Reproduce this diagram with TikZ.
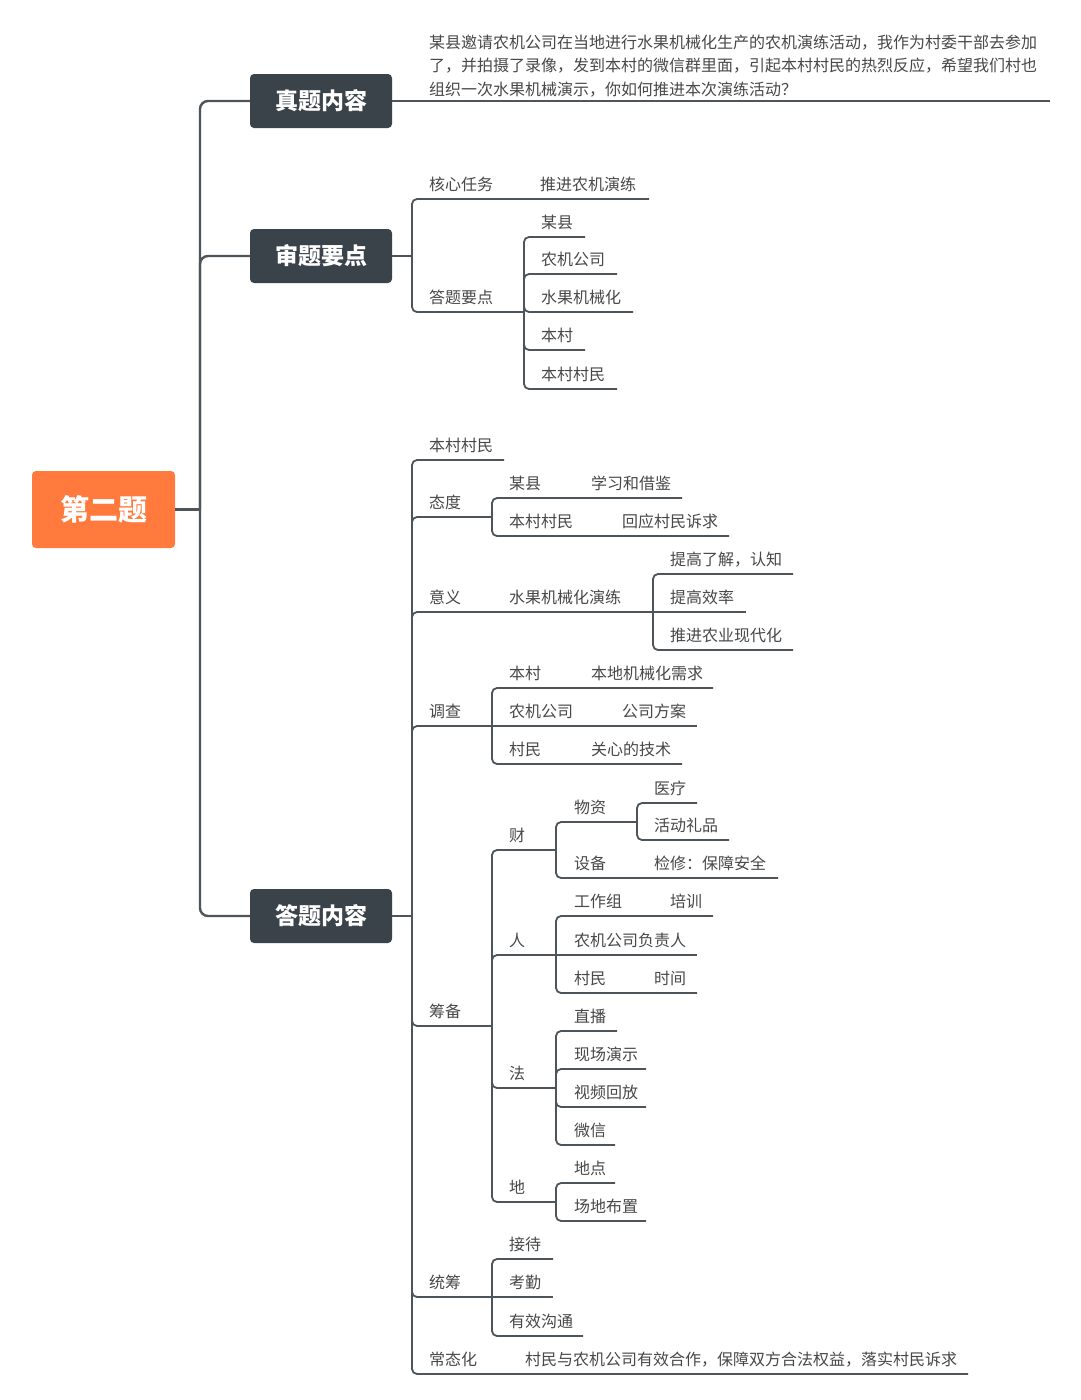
\documentclass[tikz,border=0pt]{standalone}
\usepackage{fontspec}
\setmainfont{Noto Sans CJK SC}
\definecolor{linec}{RGB}{77,84,90}
\definecolor{boxc}{RGB}{59,67,74}
\definecolor{rootc}{RGB}{255,122,60}
\definecolor{txtc}{RGB}{72,72,72}
\begin{document}
\begin{tikzpicture}[x=1pt,y=-1pt,
 br/.style={draw=linec,line width=1.8pt,rounded corners=5pt},
 trunk/.style={draw=linec,line width=2.4pt,rounded corners=8pt},
 lbl/.style={anchor=base west,inner sep=0pt,text=txtc,font=\fontsize{16}{16}\selectfont},
 topic/.style={fill=boxc,rounded corners=4pt,text=white,font=\fontsize{23}{23}\selectfont\bfseries,minimum width=142pt,minimum height=54pt,inner sep=0pt},
 rootbox/.style={fill=rootc,rounded corners=4pt,text=white,font=\fontsize{29}{29}\selectfont\bfseries,minimum width=143pt,minimum height=77pt,inner sep=0pt}
]
\fill[white] (0,0) rectangle (1080,1400);
\useasboundingbox (0,0) rectangle (1080,1400);

% root and main topics
\node[rootbox] (root) at (103.5,509.5) {第二题};
\node[topic] (t1) at (321,101) {真题内容};
\node[topic] (t2) at (321,256) {审题要点};
\node[topic] (t3) at (321,916) {答题内容};

\draw[trunk] (root.east) -- (200,509.5) coordinate (tj);
\draw[trunk] (tj) |- (t1.west);
\draw[trunk] (tj) |- (t2.west);
\draw[trunk] (tj) |- (t3.west);

% question text
\node[anchor=south west,inner sep=0pt,align=left,text=txtc,font=\fontsize{16}{23.5}\selectfont] (q) at (429,97)
 {某县邀请农机公司在当地进行水果机械化生产的农机演练活动，我作为村委干部去参加\\
  了，并拍摄了录像，发到本村的微信群里面，引起本村村民的热烈反应，希望我们村也\\
  组织一次水果机械演示，你如何推进本次演练活动？};
\draw[br] (t1.east) -- (1050,101) coordinate (qend);

% 审题要点
\node[lbl] (a1) at (429,190) {核心任务};
\node[lbl] (a2) at (540,190) {推进农机演练};
\node[lbl] (a3) at (429,303) {答题要点};
\node[lbl] (a4) at (541,228) {某县};
\node[lbl] (a5) at (541,265) {农机公司};
\node[lbl] (a6) at (541,303) {水果机械化};
\node[lbl] (a7) at (541,341) {本村};
\node[lbl] (a8) at (541,380) {本村村民};

\draw[br] (t2.east) -- (412,256) coordinate (j2);
\draw[br] (j2) |- (649,199);
\draw[br] (j2) |- (524,312) coordinate (j2b);
\foreach \yy/\ee in {237/585,274/617,312/633,350/585,389/617}
  \draw[br] (j2b) |- (\ee,\yy);

% 答题内容
\draw[br] (t3.east) -- (412,916) coordinate (j3);

\node[lbl] (b1) at (429,451) {本村村民};
\draw[br] (j3) |- (504,460);

\node[lbl] (b2) at (429,508) {态度};
\node[lbl] (b21) at (509,489) {某县};
\node[lbl] (b22) at (591,489) {学习和借鉴};
\node[lbl] (b23) at (509,527) {本村村民};
\node[lbl] (b24) at (622,527) {回应村民诉求};
\draw[br] (j3) |- (492,517) coordinate (jtd);
\draw[br] (jtd) |- (682,498);
\draw[br] (jtd) |- (729,536);

\node[lbl] (b3) at (429,603) {意义};
\node[lbl] (b31) at (509,603) {水果机械化演练};
\node[lbl] (b32) at (670,565) {提高了解，认知};
\node[lbl] (b33) at (670,603) {提高效率};
\node[lbl] (b34) at (670,641) {推进农业现代化};
\draw[br] (j3) |- (653,612) coordinate (jyy);
\draw[br] (jyy) |- (793,574);
\draw[br] (jyy) -- (746,612);
\draw[br] (jyy) |- (793,650);

\node[lbl] (b4) at (429,717) {调查};
\node[lbl] (b41) at (509,679) {本村};
\node[lbl] (b42) at (591,679) {本地机械化需求};
\node[lbl] (b43) at (509,717) {农机公司};
\node[lbl] (b44) at (622,717) {公司方案};
\node[lbl] (b45) at (509,755) {村民};
\node[lbl] (b46) at (591,755) {关心的技术};
\draw[br] (j3) |- (492,726) coordinate (jdc);
\draw[br] (jdc) |- (713,688);
\draw[br] (jdc) -- (697,726);
\draw[br] (jdc) |- (682,764);

\node[lbl] (b5) at (429,1017) {筹备};
\draw[br] (j3) |- (492,1026) coordinate (jcb);
% 财
\node[lbl] (c1) at (509,841) {财};
\node[lbl] (c11) at (574,813) {物资};
\node[lbl] (c12) at (654,794) {医疗};
\node[lbl] (c13) at (654,831) {活动礼品};
\node[lbl] (c14) at (574,869) {设备};
\node[lbl] (c15) at (654,869) {检修：保障安全};
\draw[br] (jcb) |- (556,850) coordinate (jc);
\draw[br] (jc) |- (637,822) coordinate (jwz);
\draw[br] (jwz) |- (697,803);
\draw[br] (jwz) |- (729,840);
\draw[br] (jc) |- (778,878);
% 人
\node[lbl] (c2) at (509,946) {人};
\node[lbl] (c21) at (574,907) {工作组};
\node[lbl] (c22) at (670,907) {培训};
\node[lbl] (c23) at (574,946) {农机公司负责人};
\node[lbl] (c24) at (574,984) {村民};
\node[lbl] (c25) at (654,984) {时间};
\draw[br] (jcb) |- (556,955) coordinate (jr);
\draw[br] (jr) |- (713,916);
\draw[br] (jr) -- (697,955);
\draw[br] (jr) |- (697,993);
% 法
\node[lbl] (c3) at (509,1079) {法};
\node[lbl] (c31) at (574,1022) {直播};
\node[lbl] (c32) at (574,1060) {现场演示};
\node[lbl] (c33) at (574,1098) {视频回放};
\node[lbl] (c34) at (574,1136) {微信};
\draw[br] (jcb) |- (556,1088) coordinate (jf);
\draw[br] (jf) |- (617,1031);
\draw[br] (jf) |- (646,1069);
\draw[br] (jf) |- (646,1107);
\draw[br] (jf) |- (615,1145);
% 地
\node[lbl] (c4) at (509,1193) {地};
\node[lbl] (c41) at (574,1174) {地点};
\node[lbl] (c42) at (574,1212) {场地布置};
\draw[br] (jcb) |- (556,1202) coordinate (jd);
\draw[br] (jd) |- (615,1183);
\draw[br] (jd) |- (646,1221);

% 统筹
\node[lbl] (b6) at (429,1288) {统筹};
\node[lbl] (b61) at (509,1250) {接待};
\node[lbl] (b62) at (509,1288) {考勤};
\node[lbl] (b63) at (509,1327) {有效沟通};
\draw[br] (j3) |- (492,1297) coordinate (jtc);
\draw[br] (jtc) |- (553,1259);
\draw[br] (jtc) -- (553,1297);
\draw[br] (jtc) |- (583,1336);

% 常态化
\node[lbl] (b7) at (429,1365) {常态化};
\node[lbl] (b71) at (525,1365) {村民与农机公司有效合作，保障双方合法权益，落实村民诉求};
\draw[br] (j3) |- (968,1374);
\end{tikzpicture}
\end{document}
